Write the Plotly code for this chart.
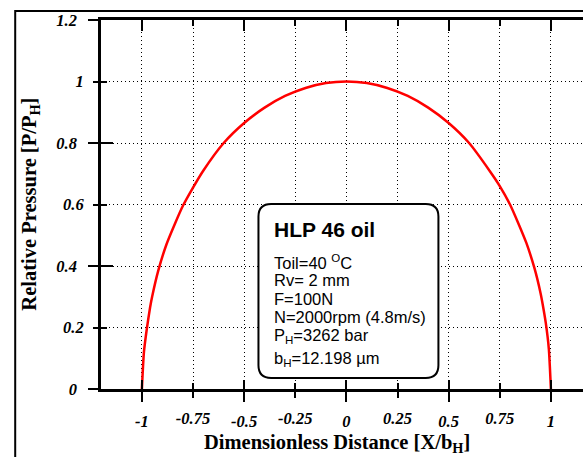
import plotly.graph_objects as go

# Dimensionless pressure profile across the contact width
distance = [-1.0, -0.99, -0.975, -0.96, -0.95, -0.92, -0.88, -0.84, -0.80, -0.75,
            -0.70, -0.60, -0.50, -0.40, -0.30, -0.20, -0.10, 0.0,
            0.10, 0.20, 0.30, 0.40, 0.50, 0.60, 0.70, 0.75, 0.80, 0.84,
            0.88, 0.92, 0.95, 0.96, 0.975, 0.99, 1.0]
pressure = [0.0, 0.12, 0.20, 0.265, 0.30, 0.385, 0.47, 0.535, 0.595, 0.655,
            0.71, 0.80, 0.865, 0.915, 0.953, 0.979, 0.995, 1.0,
            0.995, 0.979, 0.953, 0.915, 0.865, 0.80, 0.71, 0.66, 0.60, 0.54,
            0.475, 0.392, 0.31, 0.275, 0.215, 0.13, 0.0]

x_major = [-1, -0.5, 0, 0.5, 1]
x_major_labels = ["-1", "-0.5", "0", "0.5", "1"]
x_minor = [-0.75, -0.25, 0.25, 0.75]
x_minor_labels = ["-0.75", "-0.25", "0.25", "0.75"]
y_major = [0, 0.4, 0.8, 1.2]
y_major_labels = ["0", "0.4", "0.8", "1.2"]
y_minor = [0.2, 0.6, 1.0]
y_minor_labels = ["0.2", "0.6", "1"]

info_title = "HLP 46 oil"
info_lines = [
    "Toil=40 <sup>O</sup>C",
    "Rv= 2 mm",
    "F=100N",
    "N=2000rpm (4.8m/s)",
    "P<sub>H</sub>=3262 bar",
    "b<sub>H</sub>=12.198 µm",
]

X_RANGE = [-1.2, 1.157]
Y_RANGE = [0, 1.2]

tick_font = dict(family="Liberation Serif", size=16.5, color="black",
                 weight="bold", style="italic")
GRID_DASH = "1px,3px"
grid = dict(showgrid=True, gridcolor="black", griddash=GRID_DASH, gridwidth=1)

fig = go.Figure()
fig.add_trace(go.Scatter(x=distance, y=pressure, mode="lines",
                         line=dict(color="#ff0000", width=2.5, shape="spline", smoothing=0.6),
                         showlegend=False, hoverinfo="skip"))
# empty traces so the extra tick axes get drawn
for xa, ya in [("x2", "y"), ("x3", "y"), ("x4", "y"), ("x", "y2"), ("x", "y3")]:
    fig.add_trace(go.Scatter(x=[None], y=[None], xaxis=xa, yaxis=ya,
                             showlegend=False, hoverinfo="skip"))

fig.update_layout(
    width=583, height=457,
    margin=dict(l=101, r=0, t=20, b=68),
    paper_bgcolor="white", plot_bgcolor="white",
    xaxis=dict(range=X_RANGE, tickmode="array", tickvals=x_major, ticktext=x_major_labels,
               ticks="outside", ticklen=10, tickwidth=2, tickcolor="black",
               showline=True, linewidth=2.5, linecolor="black", zeroline=False,
               tickfont=tick_font, ticklabelstandoff=5, **grid,
               minor=dict(tickmode="array", tickvals=x_minor, ticks="outside", ticklen=6,
                          tickwidth=2, tickcolor="black", showgrid=True, gridcolor="black",
                          griddash=GRID_DASH, gridwidth=1)),
    xaxis2=dict(range=X_RANGE, overlaying="x", side="bottom", anchor="y",
                tickmode="array", tickvals=x_minor, ticktext=x_minor_labels,
                ticks="outside", ticklen=6, tickwidth=2, tickcolor="black",
                showline=False, showgrid=False, zeroline=False, tickfont=tick_font,
                ticklabelstandoff=8),
    xaxis3=dict(range=X_RANGE, overlaying="x", side="bottom", anchor="y",
                tickmode="array", tickvals=x_major, ticks="inside", ticklen=9, tickwidth=2,
                tickcolor="black", showticklabels=False, showline=False, showgrid=False,
                zeroline=False,
                minor=dict(tickmode="array", tickvals=x_minor, ticks="inside", ticklen=6,
                           tickwidth=2, tickcolor="black")),
    xaxis4=dict(range=X_RANGE, overlaying="x", side="top", anchor="y",
                tickmode="array", tickvals=x_major, ticks="inside", ticklen=11, tickwidth=2,
                tickcolor="black", showticklabels=False, showline=True, linewidth=2.5,
                linecolor="black", showgrid=False, zeroline=False,
                minor=dict(tickmode="array", tickvals=x_minor, ticks="inside", ticklen=6,
                           tickwidth=2, tickcolor="black")),
    yaxis=dict(range=Y_RANGE, tickmode="array", tickvals=y_major, ticktext=y_major_labels,
               ticks="outside", ticklen=10, tickwidth=2, tickcolor="black",
               showline=True, linewidth=2.5, linecolor="black", zeroline=False,
               tickfont=tick_font, ticklabelstandoff=8, **grid,
               minor=dict(tickmode="array", tickvals=y_minor, ticks="outside", ticklen=5,
                          tickwidth=2, tickcolor="black", showgrid=True, gridcolor="black",
                          griddash=GRID_DASH, gridwidth=1)),
    yaxis2=dict(range=Y_RANGE, overlaying="y", side="left", anchor="x",
                tickmode="array", tickvals=y_minor, ticktext=y_minor_labels,
                ticks="outside", ticklen=5, tickwidth=2, tickcolor="black",
                showline=False, showgrid=False, zeroline=False, tickfont=tick_font,
                ticklabelstandoff=8),
    yaxis3=dict(range=Y_RANGE, overlaying="y", side="left", anchor="x",
                tickmode="array", tickvals=y_major, ticks="inside", ticklen=12, tickwidth=2,
                tickcolor="black", showticklabels=False, showline=False, showgrid=False,
                zeroline=False,
                minor=dict(tickmode="array", tickvals=y_minor, ticks="inside", ticklen=6,
                           tickwidth=2, tickcolor="black")),
)

# outer frame of the figure panel
fig.add_shape(type="rect", xref="paper", yref="paper", x0=-0.178, x1=1.3, y0=-0.5, y1=1.0244,
              line=dict(color="black", width=2), fillcolor="rgba(0,0,0,0)", layer="above")

# rounded info box (data coordinates of the box corners, corner radius in each unit)
bx0, bx1, by0, by1 = -0.43, 0.45, 0.036, 0.602
rx, ry = 0.062, 0.041
box_path = (f"M {bx0 + rx},{by1} L {bx1 - rx},{by1} Q {bx1},{by1} {bx1},{by1 - ry} "
            f"L {bx1},{by0 + ry} Q {bx1},{by0} {bx1 - rx},{by0} "
            f"L {bx0 + rx},{by0} Q {bx0},{by0} {bx0},{by0 + ry} "
            f"L {bx0},{by1 - ry} Q {bx0},{by1} {bx0 + rx},{by1} Z")
fig.add_shape(type="path", path=box_path, xref="x", yref="y",
              line=dict(color="black", width=2), fillcolor="white", layer="above")

text_x = -0.365
fig.add_annotation(x=text_x, y=0.518, xref="x", yref="y", text=info_title, showarrow=False,
                   xanchor="left", yanchor="middle",
                   font=dict(family="Liberation Sans", size=21, color="black", weight="bold"))
line_y = [0.413, 0.354, 0.292, 0.234, 0.174, 0.098]
for txt, yy in zip(info_lines, line_y):
    fig.add_annotation(x=text_x, y=yy, xref="x", yref="y", text=txt, showarrow=False,
                       xanchor="left", yanchor="middle",
                       font=dict(family="Liberation Sans", size=16.5, color="black"))

# axis titles
title_font = dict(family="Liberation Serif", size=20.5, color="black", weight="bold")
fig.add_annotation(x=-0.147, y=0.5, xref="paper", yref="paper",
                   text="Relative Pressure [P/P<sub>H</sub>]", textangle=-90, showarrow=False,
                   xanchor="center", yanchor="middle", font=title_font)
fig.add_annotation(x=0.49, y=-0.148, xref="paper", yref="paper",
                   text="Dimensionless Distance [X/b<sub>H</sub>]", showarrow=False,
                   xanchor="center", yanchor="middle", font=title_font)

fig.write_html("out.html")
